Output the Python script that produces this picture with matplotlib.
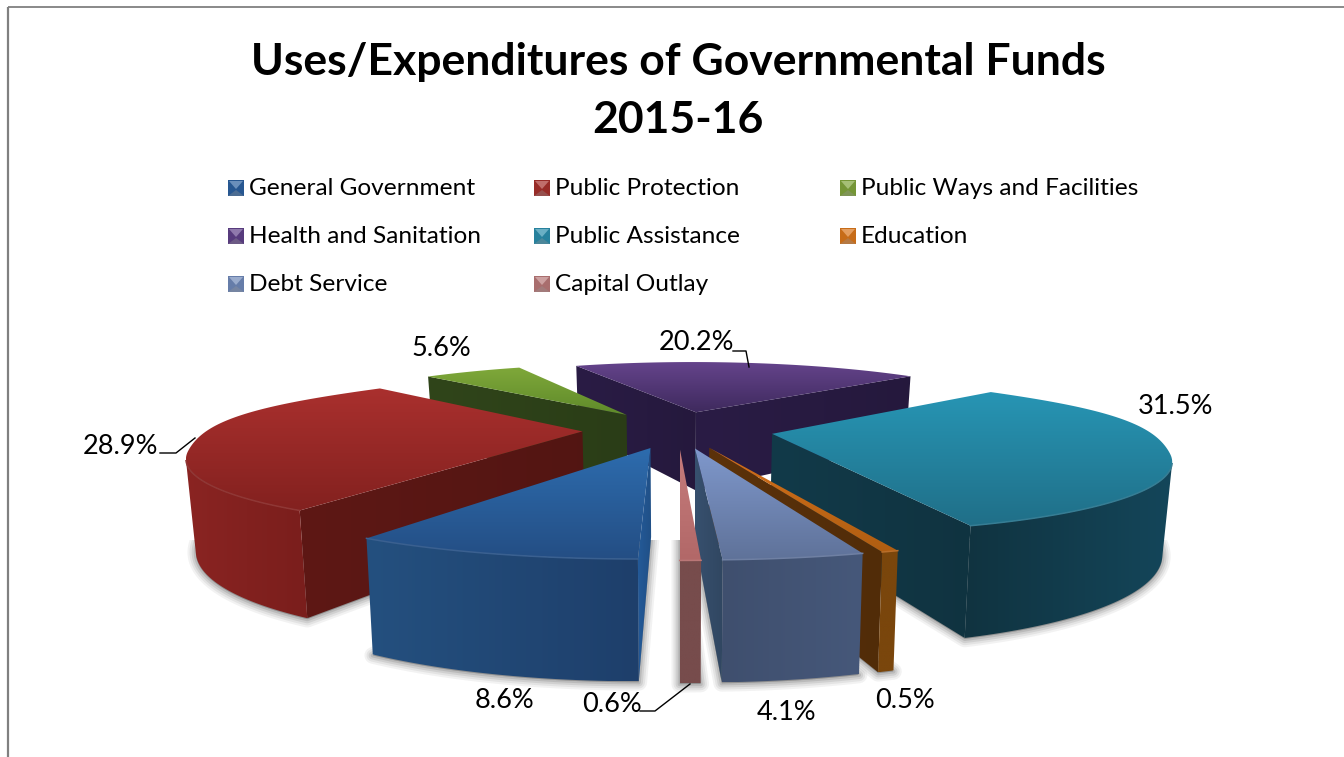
import numpy as np
import matplotlib
matplotlib.use("Agg")
import matplotlib.pyplot as plt
from matplotlib.patches import Polygon, Rectangle

# Chart data
categories = ["General Government", "Public Protection", "Public Ways and Facilities",
              "Health and Sanitation", "Public Assistance", "Education",
              "Debt Service", "Capital Outlay"]
shares = [8.6, 28.9, 5.6, 20.2, 31.5, 0.5, 4.1, 0.6]
title_lines = ["Uses/Expenditures of Governmental Funds", "2015-16"]

# Face colours per slice: top (far, near), arc side (start, end), radial side
top_far = ["#2D6CAE", "#AA302E", "#7FA83A", "#65448C", "#2795B4", "#D4701A", "#7F98CC", "#C67C7C"]
top_near = ["#244E84", "#83211F", "#5F8A2A", "#3F2A5E", "#206F88", "#B05E12", "#5F7299", "#B26868"]
arc_a = ["#1E3F6B", "#7A1E1C", "#35501A", "#2C1C47", "#14465A", "#7A460C", "#46587A", "#774C4C"]
arc_b = ["#24507F", "#8A2422", "#35501A", "#2C1C47", "#103340", "#7A460C", "#3F4F6E", "#774C4C"]
rad_col = ["#245A98", "#5E1815", "#30451A", "#2A1C45", "#123A49", "#5C320A", "#37506E", "#6E4444"]
swatch_mid = ["#2A5F9E", "#A5302C", "#7FA33C", "#5F4088", "#2A8CAB", "#D8751A", "#6F88B8", "#B87878"]

# Projection and pie geometry
RADIUS, EXPLODE = 563.0, 146.0
CENTER = (-3.0, 700.0)
DEPTH, CX, HORIZON, PLANE, HEIGHT = 1500.0, 680.0, 153.0, 405.0, 122.0


def project(X, Y):
    s = 1.0 / (1.0 + Y / DEPTH)
    lateral = X * s * (1.0 - 0.13 * (1.0 - s))
    top = np.column_stack([CX + lateral, HORIZON + PLANE * s])
    bottom = np.column_stack([CX + 0.98 * lateral, HORIZON + PLANE * s + HEIGHT * s])
    return top, bottom


def rim_radius(th):
    """Rim radius with the fuller shoulders of the far left and right of the pie."""
    deg = np.degrees(th) % 360.0
    left = (deg > 75) & (deg < 135)
    right = (deg > 225) & (deg < 285)
    bump = left * np.sin(np.radians(3 * (deg - 75))) ** 2 + right * np.sin(np.radians(3 * (deg - 225))) ** 2
    return RADIUS * (1.0 + 0.028 * bump)


def mix(c1, c2, t):
    a, b = np.array(matplotlib.colors.to_rgb(c1)), np.array(matplotlib.colors.to_rgb(c2))
    return a + (b - a) * t


def signed_area(p):
    x, y = p[:, 0], p[:, 1]
    return 0.5 * np.sum(x * np.roll(y, -1) - np.roll(x, -1) * y)


def gradient_fill(outline, c_start, c_end, axis, zorder):
    """Fill a polygon with a linear gradient along screen x (axis=1) or y (axis=0)."""
    poly = Polygon(outline, closed=True, fc="none", ec="none", zorder=zorder)
    ax.add_patch(poly)
    t = np.linspace(0, 1, 128)
    img = np.array([mix(c_start, c_end, v) for v in t])
    img = img[None, :, :] if axis == 1 else img[:, None, :]
    x0, x1 = outline[:, 0].min(), outline[:, 0].max()
    y0, y1 = outline[:, 1].min(), outline[:, 1].max()
    im = ax.imshow(img, extent=(x0, x1, y1, y0), aspect="auto", origin="upper",
                   interpolation="bilinear", zorder=zorder)
    im.set_clip_path(poly)


fig = plt.figure(figsize=(13.44, 7.57), dpi=100, facecolor="white")
ax = fig.add_axes([0, 0, 1, 1])
ax.axis("off")
plt.rcParams["font.family"] = ["Lato", "DejaVu Sans"]

# Slice outlines in screen space
edges = np.cumsum([0.0] + shares) / sum(shares) * 360.0
slices = []
for i in range(len(shares)):
    a0, a1 = np.radians(edges[i]), np.radians(edges[i + 1])
    mid = (a0 + a1) / 2
    ex = CENTER[0] - EXPLODE * np.sin(mid)
    ey = CENTER[1] - EXPLODE * np.cos(mid)
    th = np.linspace(a0, a1, max(4, int(np.degrees(a1 - a0))))
    rr = rim_radius(th)
    X = np.r_[ex, ex - rr * np.sin(th)]
    Y = np.r_[ey, ey - rr * np.cos(th)]
    slices.append(project(X, Y))

# Soft floor shadow under the slices
for top, bottom in slices:
    foot = bottom + np.array([0.0, 1.0])
    for lw, alpha in [(12, 0.07), (9, 0.09), (6, 0.12), (3, 0.16)]:
        p = Polygon(foot, closed=True, fc=(0.3, 0.3, 0.3, alpha), ec=(0.3, 0.3, 0.3, alpha),
                    lw=lw, joinstyle="round", zorder=1)
        ax.add_patch(p)
        p.set_clip_path(Rectangle((0, 540), 1344, 217, transform=ax.transData))

# Slices are painted back to front
paint_order = [3, 2, 1, 4, 5, 6, 7, 0]
z = 2
for i in paint_order:
    top, bottom = slices[i]
    n = len(top)
    idx = list(range(n)) + [0]
    arc_quads = []
    for k in range(n):
        a, b = idx[k], idx[k + 1]
        quad = np.array([top[a], top[b], bottom[b], bottom[a]])
        if signed_area(quad) >= 0:
            continue
        if a != 0 and b != 0:
            arc_quads.append((a, b))
        else:
            # Radial faces darken slightly away from the slice's outer corner
            near, far = (mix(rad_col[i], "#000000", 0.12), rad_col[i])
            if quad[0, 0] > quad[1, 0]:
                near, far = far, near
            gradient_fill(quad, near, far, 1, z)
    if arc_quads:
        ids = [arc_quads[0][0]] + [q[1] for q in arc_quads]
        outline = np.vstack([top[ids], bottom[ids][::-1]])
        # arc_a applies at the slice's start angle, which lies to the right on screen
        gradient_fill(outline, arc_b[i], arc_a[i], 1, z)
        rim = mix(top_near[i], "#FFFFFF", 0.10)
        ax.plot(top[ids, 0], top[ids, 1], color=rim, lw=1.1, zorder=z + 0.8)
    z += 1
    # Top face: vertical gradient, far edge lightest
    gradient_fill(top, top_far[i], top_near[i], 0, z - 0.5)
    z += 1

ax.set_xlim(0, 1344)
ax.set_ylim(757, 0)

# Chart frame: only the top and left edges show
ax.plot([8, 8], [757, 6.5], color="#808080", lw=1.6, solid_capstyle="butt", zorder=50)
ax.plot([8, 1344], [6.5, 6.5], color="#808080", lw=1.3, solid_capstyle="butt", zorder=50)

# Title
ax.text(678, 62, title_lines[0], ha="center", va="center", fontsize=32, fontweight="bold", color="black", zorder=60)
ax.text(678, 120, title_lines[1], ha="center", va="center", fontsize=32, fontweight="bold", color="black", zorder=60)

# Legend with bevelled swatches
legend_x = [228, 534, 840]
legend_y = [188, 236, 284]
for i, name in enumerate(categories):
    lx, ly = legend_x[i % 3], legend_y[i // 3]
    sz = 8
    c = swatch_mid[i]
    l, r, u, d = lx, lx + 2 * sz, ly - sz, ly + sz
    cx, cy = lx + sz, ly
    ax.add_patch(Rectangle((l, u), 2 * sz, 2 * sz, fc=mix(c, "#000000", 0.08), ec="none", zorder=60))
    ax.add_patch(Polygon([(l + 1, u + 1), (r - 1, u + 1), (cx, cy + 1)], fc=mix(c, "#FFFFFF", 0.3), ec="none", zorder=61))
    ax.add_patch(Polygon([(l, d), (r, d), (cx, cy + 2)], fc=mix(c, "#808080", 0.4), ec="none", zorder=61))
    ax.text(lx + 21, ly + 0.5, name, ha="left", va="center", fontsize=17.6, color="black", zorder=61)

# Percentage labels and their leader lines
label_pos = [(505, 699), (120, 446), (441, 348), (697, 342), (1176, 405), (905, 699), (787, 712), (612, 704)]
for v, (x, y) in zip(shares, label_pos):
    ax.text(x, y + 1, f"{v:.1f}%", ha="center", va="center", fontsize=19.5, color="black", zorder=60)
leaders = [[(160, 453), (176, 453), (195, 438)],
           [(733, 351), (746, 351), (749, 367)],
           [(640, 711), (655, 711), (690, 684)]]
for pts in leaders:
    xs, ys = zip(*pts)
    ax.plot(xs, ys, color="black", lw=1.0, zorder=60)

fig.savefig("out.png", dpi=100, facecolor="white")
